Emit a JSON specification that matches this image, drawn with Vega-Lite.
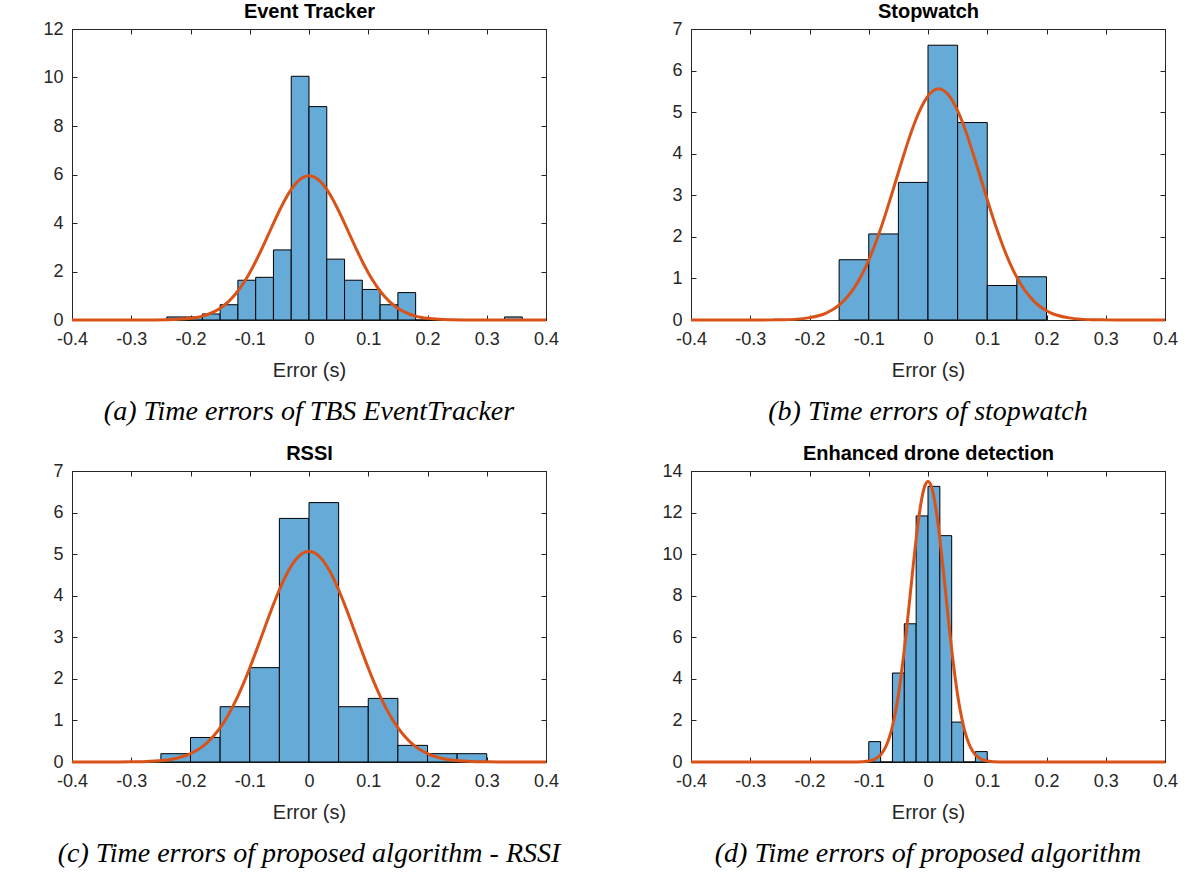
{
  "$schema": "https://vega.github.io/schema/vega-lite/v6.json",
  "padding": {"left": 42, "top": 1, "right": 20, "bottom": 10},
  "bounds": "flush",
  "columns": 2,
  "spacing": {"row": 151, "column": 145},
  "config": {
    "view": {"stroke": "#262626", "strokeWidth": 1},
    "axis": {
      "grid": false,
      "domainColor": "#262626",
      "domainWidth": 1,
      "tickColor": "#262626",
      "tickWidth": 1,
      "tickSize": -5,
      "labelColor": "#262626",
      "titleColor": "#262626",
      "labelFont": "Liberation Sans",
      "titleFont": "Liberation Sans",
      "labelFontSize": 18,
      "titleFontSize": 20,
      "titleFontWeight": "normal",
      "labelFlush": false,
      "labelOverlap": false,
      "labelPadding": 14
    },
    "axisBottom": {"labelPadding": 15}
  },
  "datasets": {
    "bars_a": [
      {"x0": -0.24, "x1": -0.21, "h": 0.126},
      {"x0": -0.21, "x1": -0.18, "h": 0.126},
      {"x0": -0.18, "x1": -0.15, "h": 0.25},
      {"x0": -0.15, "x1": -0.12, "h": 0.63},
      {"x0": -0.12, "x1": -0.09, "h": 1.64},
      {"x0": -0.09, "x1": -0.06, "h": 1.76},
      {"x0": -0.06, "x1": -0.03, "h": 2.89},
      {"x0": -0.03, "x1": 0.0, "h": 10.05},
      {"x0": 0.0, "x1": 0.03, "h": 8.8},
      {"x0": 0.03, "x1": 0.06, "h": 2.51},
      {"x0": 0.06, "x1": 0.09, "h": 1.64},
      {"x0": 0.09, "x1": 0.12, "h": 1.26},
      {"x0": 0.12, "x1": 0.15, "h": 0.63},
      {"x0": 0.15, "x1": 0.18, "h": 1.13},
      {"x0": 0.18, "x1": 0.21, "h": 0},
      {"x0": 0.21, "x1": 0.24, "h": 0},
      {"x0": 0.24, "x1": 0.27, "h": 0},
      {"x0": 0.27, "x1": 0.30, "h": 0},
      {"x0": 0.30, "x1": 0.33, "h": 0},
      {"x0": 0.33, "x1": 0.36, "h": 0.126}
    ],
    "curve_a": [
      {"x": -0.4, "y": 0}, {"x": -0.3, "y": 0}, {"x": -0.28, "y": 0.001}, {"x": -0.26, "y": 0.003},
      {"x": -0.24, "y": 0.010}, {"x": -0.22, "y": 0.027}, {"x": -0.20, "y": 0.069}, {"x": -0.19, "y": 0.107},
      {"x": -0.18, "y": 0.161}, {"x": -0.17, "y": 0.238}, {"x": -0.16, "y": 0.344}, {"x": -0.15, "y": 0.485},
      {"x": -0.14, "y": 0.670}, {"x": -0.13, "y": 0.906}, {"x": -0.12, "y": 1.197}, {"x": -0.11, "y": 1.546},
      {"x": -0.10, "y": 1.953}, {"x": -0.09, "y": 2.414}, {"x": -0.08, "y": 2.917}, {"x": -0.07, "y": 3.447},
      {"x": -0.06, "y": 3.985}, {"x": -0.05, "y": 4.504}, {"x": -0.04, "y": 4.979}, {"x": -0.03, "y": 5.383},
      {"x": -0.02, "y": 5.691}, {"x": -0.01, "y": 5.884}, {"x": 0.0, "y": 5.95},
      {"x": 0.01, "y": 5.884}, {"x": 0.02, "y": 5.691}, {"x": 0.03, "y": 5.383}, {"x": 0.04, "y": 4.979},
      {"x": 0.05, "y": 4.504}, {"x": 0.06, "y": 3.985}, {"x": 0.07, "y": 3.447}, {"x": 0.08, "y": 2.917},
      {"x": 0.09, "y": 2.414}, {"x": 0.10, "y": 1.953}, {"x": 0.11, "y": 1.546}, {"x": 0.12, "y": 1.197},
      {"x": 0.13, "y": 0.906}, {"x": 0.14, "y": 0.670}, {"x": 0.15, "y": 0.485}, {"x": 0.16, "y": 0.344},
      {"x": 0.17, "y": 0.238}, {"x": 0.18, "y": 0.161}, {"x": 0.19, "y": 0.107}, {"x": 0.20, "y": 0.069},
      {"x": 0.22, "y": 0.027}, {"x": 0.24, "y": 0.010}, {"x": 0.26, "y": 0.003}, {"x": 0.28, "y": 0.001},
      {"x": 0.3, "y": 0}, {"x": 0.4, "y": 0}
    ],
    "bars_b": [
      {"x0": -0.15, "x1": -0.10, "h": 1.45},
      {"x0": -0.10, "x1": -0.05, "h": 2.07},
      {"x0": -0.05, "x1": 0.0, "h": 3.31},
      {"x0": 0.0, "x1": 0.05, "h": 6.61},
      {"x0": 0.05, "x1": 0.10, "h": 4.75},
      {"x0": 0.10, "x1": 0.15, "h": 0.83},
      {"x0": 0.15, "x1": 0.20, "h": 1.04}
    ],
    "curve_b": [
      {"x": -0.4, "y": 0}, {"x": -0.282, "y": 0.001}, {"x": -0.262, "y": 0.003}, {"x": -0.242, "y": 0.008},
      {"x": -0.222, "y": 0.021}, {"x": -0.202, "y": 0.051}, {"x": -0.182, "y": 0.115}, {"x": -0.172, "y": 0.168},
      {"x": -0.162, "y": 0.240}, {"x": -0.152, "y": 0.337}, {"x": -0.142, "y": 0.464}, {"x": -0.132, "y": 0.627},
      {"x": -0.122, "y": 0.831}, {"x": -0.112, "y": 1.079}, {"x": -0.102, "y": 1.376}, {"x": -0.092, "y": 1.720},
      {"x": -0.082, "y": 2.108}, {"x": -0.072, "y": 2.535}, {"x": -0.062, "y": 2.989}, {"x": -0.052, "y": 3.457},
      {"x": -0.042, "y": 3.921}, {"x": -0.032, "y": 4.363}, {"x": -0.022, "y": 4.761}, {"x": -0.012, "y": 5.095},
      {"x": -0.002, "y": 5.348}, {"x": 0.008, "y": 5.506}, {"x": 0.018, "y": 5.56}, {"x": 0.028, "y": 5.506},
      {"x": 0.038, "y": 5.348}, {"x": 0.048, "y": 5.095}, {"x": 0.058, "y": 4.761}, {"x": 0.068, "y": 4.363},
      {"x": 0.078, "y": 3.921}, {"x": 0.088, "y": 3.457}, {"x": 0.098, "y": 2.989}, {"x": 0.108, "y": 2.535},
      {"x": 0.118, "y": 2.108}, {"x": 0.128, "y": 1.720}, {"x": 0.138, "y": 1.376}, {"x": 0.148, "y": 1.079},
      {"x": 0.158, "y": 0.831}, {"x": 0.168, "y": 0.627}, {"x": 0.178, "y": 0.464}, {"x": 0.188, "y": 0.337},
      {"x": 0.198, "y": 0.240}, {"x": 0.208, "y": 0.168}, {"x": 0.218, "y": 0.115}, {"x": 0.238, "y": 0.051},
      {"x": 0.258, "y": 0.021}, {"x": 0.278, "y": 0.008}, {"x": 0.298, "y": 0.003}, {"x": 0.318, "y": 0.001},
      {"x": 0.4, "y": 0}
    ],
    "bars_c": [
      {"x0": -0.25, "x1": -0.20, "h": 0.2},
      {"x0": -0.20, "x1": -0.15, "h": 0.59},
      {"x0": -0.15, "x1": -0.10, "h": 1.33},
      {"x0": -0.10, "x1": -0.05, "h": 2.27},
      {"x0": -0.05, "x1": 0.0, "h": 5.86},
      {"x0": 0.0, "x1": 0.05, "h": 6.24},
      {"x0": 0.05, "x1": 0.10, "h": 1.33},
      {"x0": 0.10, "x1": 0.15, "h": 1.53},
      {"x0": 0.15, "x1": 0.20, "h": 0.4},
      {"x0": 0.20, "x1": 0.25, "h": 0.2},
      {"x0": 0.25, "x1": 0.30, "h": 0.2}
    ],
    "curve_c": [
      {"x": -0.4, "y": 0}, {"x": -0.35, "y": 0}, {"x": -0.32, "y": 0.001}, {"x": -0.30, "y": 0.004},
      {"x": -0.28, "y": 0.009}, {"x": -0.26, "y": 0.022}, {"x": -0.24, "y": 0.049}, {"x": -0.22, "y": 0.102},
      {"x": -0.21, "y": 0.144}, {"x": -0.20, "y": 0.201}, {"x": -0.19, "y": 0.275}, {"x": -0.18, "y": 0.371},
      {"x": -0.17, "y": 0.492}, {"x": -0.16, "y": 0.642}, {"x": -0.15, "y": 0.825}, {"x": -0.14, "y": 1.042},
      {"x": -0.13, "y": 1.296}, {"x": -0.12, "y": 1.586}, {"x": -0.11, "y": 1.909}, {"x": -0.10, "y": 2.262},
      {"x": -0.09, "y": 2.637}, {"x": -0.08, "y": 3.025}, {"x": -0.07, "y": 3.414}, {"x": -0.06, "y": 3.791},
      {"x": -0.05, "y": 4.144}, {"x": -0.04, "y": 4.456}, {"x": -0.03, "y": 4.715}, {"x": -0.02, "y": 4.909},
      {"x": -0.01, "y": 5.029}, {"x": 0.0, "y": 5.07}, {"x": 0.01, "y": 5.029}, {"x": 0.02, "y": 4.909},
      {"x": 0.03, "y": 4.715}, {"x": 0.04, "y": 4.456}, {"x": 0.05, "y": 4.144}, {"x": 0.06, "y": 3.791},
      {"x": 0.07, "y": 3.414}, {"x": 0.08, "y": 3.025}, {"x": 0.09, "y": 2.637}, {"x": 0.10, "y": 2.262},
      {"x": 0.11, "y": 1.909}, {"x": 0.12, "y": 1.586}, {"x": 0.13, "y": 1.296}, {"x": 0.14, "y": 1.042},
      {"x": 0.15, "y": 0.825}, {"x": 0.16, "y": 0.642}, {"x": 0.17, "y": 0.492}, {"x": 0.18, "y": 0.371},
      {"x": 0.19, "y": 0.275}, {"x": 0.20, "y": 0.201}, {"x": 0.21, "y": 0.144}, {"x": 0.22, "y": 0.102},
      {"x": 0.24, "y": 0.049}, {"x": 0.26, "y": 0.022}, {"x": 0.28, "y": 0.009}, {"x": 0.30, "y": 0.004},
      {"x": 0.32, "y": 0.001}, {"x": 0.35, "y": 0}, {"x": 0.4, "y": 0}
    ],
    "bars_d": [
      {"x0": -0.10, "x1": -0.08, "h": 0.98},
      {"x0": -0.08, "x1": -0.06, "h": 0},
      {"x0": -0.06, "x1": -0.04, "h": 4.28},
      {"x0": -0.04, "x1": -0.02, "h": 6.65},
      {"x0": -0.02, "x1": 0.0, "h": 11.84},
      {"x0": 0.0, "x1": 0.02, "h": 13.26},
      {"x0": 0.02, "x1": 0.04, "h": 10.89},
      {"x0": 0.04, "x1": 0.06, "h": 1.92},
      {"x0": 0.06, "x1": 0.08, "h": 0},
      {"x0": 0.08, "x1": 0.10, "h": 0.5}
    ],
    "curve_d": [
      {"x": -0.4, "y": 0}, {"x": -0.14, "y": 0}, {"x": -0.12, "y": 0.004}, {"x": -0.11, "y": 0.013},
      {"x": -0.10, "y": 0.044}, {"x": -0.09, "y": 0.131}, {"x": -0.08, "y": 0.346}, {"x": -0.075, "y": 0.539},
      {"x": -0.07, "y": 0.817}, {"x": -0.065, "y": 1.202}, {"x": -0.06, "y": 1.719}, {"x": -0.055, "y": 2.390},
      {"x": -0.05, "y": 3.227}, {"x": -0.045, "y": 4.236}, {"x": -0.04, "y": 5.402}, {"x": -0.035, "y": 6.696},
      {"x": -0.03, "y": 8.065}, {"x": -0.025, "y": 9.440}, {"x": -0.02, "y": 10.737}, {"x": -0.015, "y": 11.869},
      {"x": -0.01, "y": 12.749}, {"x": -0.005, "y": 13.308}, {"x": 0.0, "y": 13.5}, {"x": 0.005, "y": 13.308},
      {"x": 0.01, "y": 12.749}, {"x": 0.015, "y": 11.869}, {"x": 0.02, "y": 10.737}, {"x": 0.025, "y": 9.440},
      {"x": 0.03, "y": 8.065}, {"x": 0.035, "y": 6.696}, {"x": 0.04, "y": 5.402}, {"x": 0.045, "y": 4.236},
      {"x": 0.05, "y": 3.227}, {"x": 0.055, "y": 2.390}, {"x": 0.06, "y": 1.719}, {"x": 0.065, "y": 1.202},
      {"x": 0.07, "y": 0.817}, {"x": 0.075, "y": 0.539}, {"x": 0.08, "y": 0.346}, {"x": 0.09, "y": 0.131},
      {"x": 0.10, "y": 0.044}, {"x": 0.11, "y": 0.013}, {"x": 0.12, "y": 0.004}, {"x": 0.14, "y": 0},
      {"x": 0.4, "y": 0}
    ]
  },
  "concat": [
    {
      "width": 474, "height": 291,
      "title": {"text": "(a) Time errors of TBS EventTracker", "orient": "bottom", "anchor": "middle", "font": "Liberation Serif", "fontStyle": "italic", "fontWeight": "normal", "fontSize": 28, "color": "black", "offset": 18},
      "layer": [
        {
          "data": {"name": "bars_a"},
          "mark": {"type": "bar", "fill": "#66AAD7", "stroke": "black", "strokeWidth": 1},
          "encoding": {
            "x": {"field": "x0", "type": "quantitative", "scale": {"domain": [-0.4, 0.4], "nice": false},
                  "axis": {"orient": "bottom", "values": [-0.4, -0.3, -0.2, -0.1, 0, 0.1, 0.2, 0.3, 0.4], "labelExpr": "datum.value < 0 ? '-' + format(-datum.value, '.1f') : (datum.value == 0 ? '0' : format(datum.value, '.1f'))", "title": "Error (s)", "titlePadding": 12}},
            "x2": {"field": "x1"},
            "y": {"field": "h", "type": "quantitative", "scale": {"domain": [0, 12], "nice": false},
                  "axis": {"orient": "left", "values": [0, 2, 4, 6, 8, 10, 12], "title": null}},
            "y2": {"datum": 0}
          }
        },
        {
          "data": {"name": "curve_a"},
          "mark": {"type": "line", "color": "#D95319", "strokeWidth": 3, "interpolate": "monotone"},
          "encoding": {
            "x": {"field": "x", "type": "quantitative", "scale": {"domain": [-0.4, 0.4], "nice": false},
                  "axis": {"orient": "top", "values": [-0.4, -0.3, -0.2, -0.1, 0, 0.1, 0.2, 0.3, 0.4], "labels": false, "title": "Event Tracker", "titleFontWeight": "bold", "titleColor": "black", "titleFontSize": 20, "titlePadding": 7}},
            "y": {"field": "y", "type": "quantitative", "scale": {"domain": [0, 12], "nice": false},
                  "axis": {"orient": "right", "values": [0, 2, 4, 6, 8, 10, 12], "labels": false, "title": null}}
          }
        }
      ]
    },
    {
      "width": 474, "height": 291,
      "title": {"text": "(b) Time errors of stopwatch", "orient": "bottom", "anchor": "middle", "font": "Liberation Serif", "fontStyle": "italic", "fontWeight": "normal", "fontSize": 28, "color": "black", "offset": 18},
      "layer": [
        {
          "data": {"name": "bars_b"},
          "mark": {"type": "bar", "fill": "#66AAD7", "stroke": "black", "strokeWidth": 1},
          "encoding": {
            "x": {"field": "x0", "type": "quantitative", "scale": {"domain": [-0.4, 0.4], "nice": false},
                  "axis": {"orient": "bottom", "values": [-0.4, -0.3, -0.2, -0.1, 0, 0.1, 0.2, 0.3, 0.4], "labelExpr": "datum.value < 0 ? '-' + format(-datum.value, '.1f') : (datum.value == 0 ? '0' : format(datum.value, '.1f'))", "title": "Error (s)", "titlePadding": 12}},
            "x2": {"field": "x1"},
            "y": {"field": "h", "type": "quantitative", "scale": {"domain": [0, 7], "nice": false},
                  "axis": {"orient": "left", "values": [0, 1, 2, 3, 4, 5, 6, 7], "title": null}},
            "y2": {"datum": 0}
          }
        },
        {
          "data": {"name": "curve_b"},
          "mark": {"type": "line", "color": "#D95319", "strokeWidth": 3, "interpolate": "monotone"},
          "encoding": {
            "x": {"field": "x", "type": "quantitative", "scale": {"domain": [-0.4, 0.4], "nice": false},
                  "axis": {"orient": "top", "values": [-0.4, -0.3, -0.2, -0.1, 0, 0.1, 0.2, 0.3, 0.4], "labels": false, "title": "Stopwatch", "titleFontWeight": "bold", "titleColor": "black", "titleFontSize": 20, "titlePadding": 7}},
            "y": {"field": "y", "type": "quantitative", "scale": {"domain": [0, 7], "nice": false},
                  "axis": {"orient": "right", "values": [0, 1, 2, 3, 4, 5, 6, 7], "labels": false, "title": null}}
          }
        }
      ]
    },
    {
      "width": 474, "height": 291,
      "title": {"text": "(c) Time errors of proposed algorithm - RSSI", "orient": "bottom", "anchor": "middle", "font": "Liberation Serif", "fontStyle": "italic", "fontWeight": "normal", "fontSize": 28, "color": "black", "offset": 18},
      "layer": [
        {
          "data": {"name": "bars_c"},
          "mark": {"type": "bar", "fill": "#66AAD7", "stroke": "black", "strokeWidth": 1},
          "encoding": {
            "x": {"field": "x0", "type": "quantitative", "scale": {"domain": [-0.4, 0.4], "nice": false},
                  "axis": {"orient": "bottom", "values": [-0.4, -0.3, -0.2, -0.1, 0, 0.1, 0.2, 0.3, 0.4], "labelExpr": "datum.value < 0 ? '-' + format(-datum.value, '.1f') : (datum.value == 0 ? '0' : format(datum.value, '.1f'))", "title": "Error (s)", "titlePadding": 12}},
            "x2": {"field": "x1"},
            "y": {"field": "h", "type": "quantitative", "scale": {"domain": [0, 7], "nice": false},
                  "axis": {"orient": "left", "values": [0, 1, 2, 3, 4, 5, 6, 7], "title": null}},
            "y2": {"datum": 0}
          }
        },
        {
          "data": {"name": "curve_c"},
          "mark": {"type": "line", "color": "#D95319", "strokeWidth": 3, "interpolate": "monotone"},
          "encoding": {
            "x": {"field": "x", "type": "quantitative", "scale": {"domain": [-0.4, 0.4], "nice": false},
                  "axis": {"orient": "top", "values": [-0.4, -0.3, -0.2, -0.1, 0, 0.1, 0.2, 0.3, 0.4], "labels": false, "title": "RSSI", "titleFontWeight": "bold", "titleColor": "black", "titleFontSize": 20, "titlePadding": 7}},
            "y": {"field": "y", "type": "quantitative", "scale": {"domain": [0, 7], "nice": false},
                  "axis": {"orient": "right", "values": [0, 1, 2, 3, 4, 5, 6, 7], "labels": false, "title": null}}
          }
        }
      ]
    },
    {
      "width": 474, "height": 291,
      "title": {"text": "(d) Time errors of proposed algorithm", "orient": "bottom", "anchor": "middle", "font": "Liberation Serif", "fontStyle": "italic", "fontWeight": "normal", "fontSize": 28, "color": "black", "offset": 18},
      "layer": [
        {
          "data": {"name": "bars_d"},
          "mark": {"type": "bar", "fill": "#66AAD7", "stroke": "black", "strokeWidth": 1},
          "encoding": {
            "x": {"field": "x0", "type": "quantitative", "scale": {"domain": [-0.4, 0.4], "nice": false},
                  "axis": {"orient": "bottom", "values": [-0.4, -0.3, -0.2, -0.1, 0, 0.1, 0.2, 0.3, 0.4], "labelExpr": "datum.value < 0 ? '-' + format(-datum.value, '.1f') : (datum.value == 0 ? '0' : format(datum.value, '.1f'))", "title": "Error (s)", "titlePadding": 12}},
            "x2": {"field": "x1"},
            "y": {"field": "h", "type": "quantitative", "scale": {"domain": [0, 14], "nice": false},
                  "axis": {"orient": "left", "values": [0, 2, 4, 6, 8, 10, 12, 14], "title": null}},
            "y2": {"datum": 0}
          }
        },
        {
          "data": {"name": "curve_d"},
          "mark": {"type": "line", "color": "#D95319", "strokeWidth": 3, "interpolate": "monotone"},
          "encoding": {
            "x": {"field": "x", "type": "quantitative", "scale": {"domain": [-0.4, 0.4], "nice": false},
                  "axis": {"orient": "top", "values": [-0.4, -0.3, -0.2, -0.1, 0, 0.1, 0.2, 0.3, 0.4], "labels": false, "title": "Enhanced drone detection", "titleFontWeight": "bold", "titleColor": "black", "titleFontSize": 20, "titlePadding": 7}},
            "y": {"field": "y", "type": "quantitative", "scale": {"domain": [0, 14], "nice": false},
                  "axis": {"orient": "right", "values": [0, 2, 4, 6, 8, 10, 12, 14], "labels": false, "title": null}}
          }
        }
      ]
    }
  ]
}
